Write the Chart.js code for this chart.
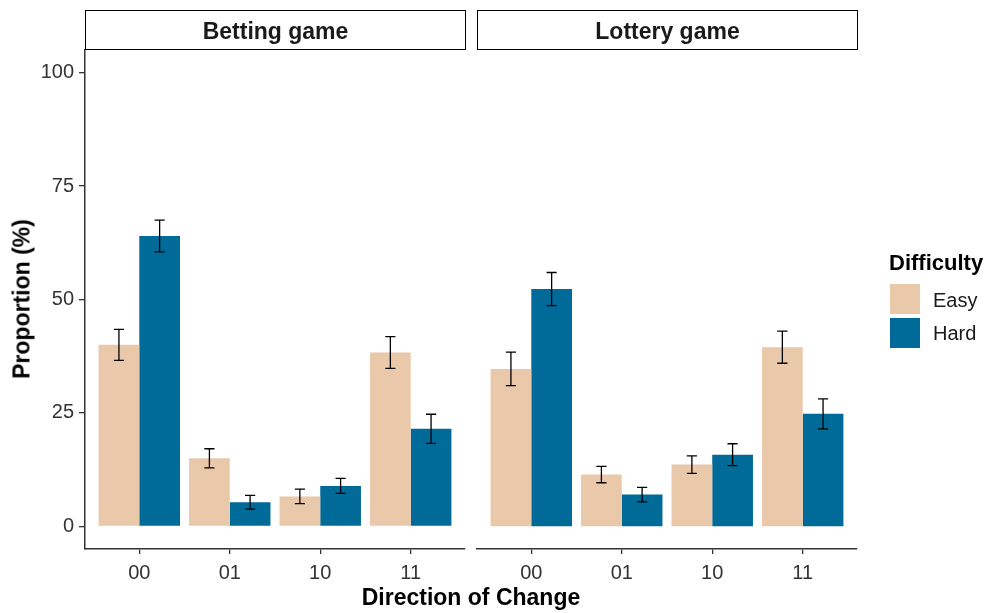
<!DOCTYPE html>
<html><head><meta charset="utf-8">
<script src="https://cdn.jsdelivr.net/npm/chart.js@4.4.0/dist/chart.umd.min.js"></script>
<style>
html,body{margin:0;padding:0;background:#fff;}
#wrap{position:relative;width:988px;height:613px;overflow:hidden;font-family:"Liberation Sans",Arial,sans-serif;background:#fff;}
canvas{position:absolute;left:0;top:0;}
.t{position:absolute;line-height:1;white-space:nowrap;color:#000;}
.strip{position:absolute;box-sizing:border-box;border:1.6px solid #000;top:10px;height:40px;background:#fff;}
.key{position:absolute;width:30px;height:30px;left:890px;}
</style></head>
<body><div id="wrap">
<canvas id="c1" width="988" height="613"></canvas>
<canvas id="c2" width="988" height="613"></canvas>
<div class="strip" style="left:85px;width:381px;"></div>
<div class="strip" style="left:477px;width:381px;"></div>
<div class="t" style="left:85px;width:381px;text-align:center;top:20px;font-size:23px;font-weight:bold;color:#1a1a1a;">Betting game</div>
<div class="t" style="left:477px;width:381px;text-align:center;top:20px;font-size:23px;font-weight:bold;color:#1a1a1a;">Lottery game</div>
<div class="t" style="left:0;width:942px;text-align:center;top:586px;font-size:23px;font-weight:bold;">Direction of Change</div>
<div class="t" style="left:22px;top:299px;font-size:23px;font-weight:bold;transform:translate(-50%,-50%) rotate(-90deg);">Proportion (%)</div>
<div class="t" style="left:889px;top:252px;font-size:22px;font-weight:bold;">Difficulty</div>
<div class="key" id="k1" style="top:284px;"></div>
<div class="key" id="k2" style="top:318px;"></div>
<div class="t" style="left:933px;top:290px;font-size:20px;color:#1a1a1a;">Easy</div>
<div class="t" style="left:933px;top:323px;font-size:20px;color:#1a1a1a;">Hard</div>
</div>
<script>
const categories = ['00', '01', '10', '11'];
const yTicks = [0, 25, 50, 75, 100];
const bettingEasy = [40.0, 15.0, 6.6, 38.3];
const bettingEasyErr = [3.4, 2.1, 1.6, 3.5];
const bettingHard = [64.0, 5.3, 8.9, 21.5];
const bettingHardErr = [3.5, 1.5, 1.65, 3.2];
const lotteryEasy = [34.7, 11.4, 13.6, 39.5];
const lotteryEasyErr = [3.7, 1.8, 1.95, 3.55];
const lotteryHard = [52.3, 7.0, 15.8, 24.8];
const lotteryHardErr = [3.65, 1.6, 2.4, 3.3];
const colEasy = '#EAC8AA';
const colHard = '#006A99';
document.getElementById('k1').style.background = colEasy;
document.getElementById('k2').style.background = colHard;

const errPlugin = {
  id: 'errbars',
  afterDatasetsDraw(chart) {
    const ctx = chart.ctx, ys = chart.scales.y;
    ctx.save();
    ctx.strokeStyle = '#000';
    ctx.lineWidth = 1.3;
    chart.data.datasets.forEach((ds, i) => {
      const meta = chart.getDatasetMeta(i);
      meta.data.forEach((bar, j) => {
        const v = ds.data[j].y, e = ds.errors[j];
        const y1 = ys.getPixelForValue(v + e), y2 = ys.getPixelForValue(v - e);
        const hw = bar.width * 0.125;
        ctx.beginPath();
        ctx.moveTo(bar.x, y1); ctx.lineTo(bar.x, y2);
        ctx.moveTo(bar.x - hw, y1); ctx.lineTo(bar.x + hw, y1);
        ctx.moveTo(bar.x - hw, y2); ctx.lineTo(bar.x + hw, y2);
        ctx.stroke();
      });
    });
    ctx.restore();
  }
};

function pts(vals) { return categories.map((c, i) => ({ x: i + 1, y: vals[i] })); }

function makeChart(id, easy, easyErr, hard, hardErr, showY, padL, padR) {
  return new Chart(document.getElementById(id), {
    type: 'bar',
    data: {
      datasets: [
        { label: 'Easy', data: pts(easy), errors: easyErr, backgroundColor: colEasy, borderWidth: 0 },
        { label: 'Hard', data: pts(hard), errors: hardErr, backgroundColor: colHard, borderWidth: 0 }
      ]
    },
    options: {
      responsive: false,
      animation: false,
      devicePixelRatio: 1,
      layout: { padding: { left: padL, right: padR, top: 50, bottom: 0 } },
      datasets: { bar: { categoryPercentage: 0.9, barPercentage: 1.0, grouped: true } },
      plugins: { legend: { display: false }, tooltip: { enabled: false } },
      scales: {
        x: {
          type: 'linear', min: 0.4, max: 4.6, offset: false,
          afterBuildTicks: s => { s.ticks = categories.map((c, i) => ({ value: i + 1 })); },
          afterFit: s => { s.height = 64; },
          ticks: { callback: v => categories[Math.round(v) - 1], color: '#333', font: { family: 'Liberation Sans', size: 20 }, padding: 7, maxRotation: 0, autoSkip: false },
          grid: { offset: false, drawOnChartArea: false, drawTicks: true, tickLength: 5, color: '#333', lineWidth: 1.3 },
          border: { display: true, color: '#333', width: 1.5 }
        },
        y: {
          display: showY,
          type: 'linear', min: -5, max: 105,
          afterBuildTicks: s => { s.ticks = yTicks.map(v => ({ value: v })); },
          afterFit: s => { s.width = showY ? 85 : 0; },
          ticks: { color: '#333', font: { family: 'Liberation Sans', size: 20 }, padding: 5 },
          grid: { drawOnChartArea: false, drawTicks: true, tickLength: 6, color: '#333', lineWidth: 1.3 },
          border: { display: true, color: '#333', width: 1.5 }
        }
      }
    },
    plugins: [errPlugin]
  });
}

makeChart('c1', bettingEasy, bettingEasyErr, bettingHard, bettingHardErr, true, 0, 988 - 465);
makeChart('c2', lotteryEasy, lotteryEasyErr, lotteryHard, lotteryHardErr, false, 477, 988 - 857);
</script>
</body></html>
